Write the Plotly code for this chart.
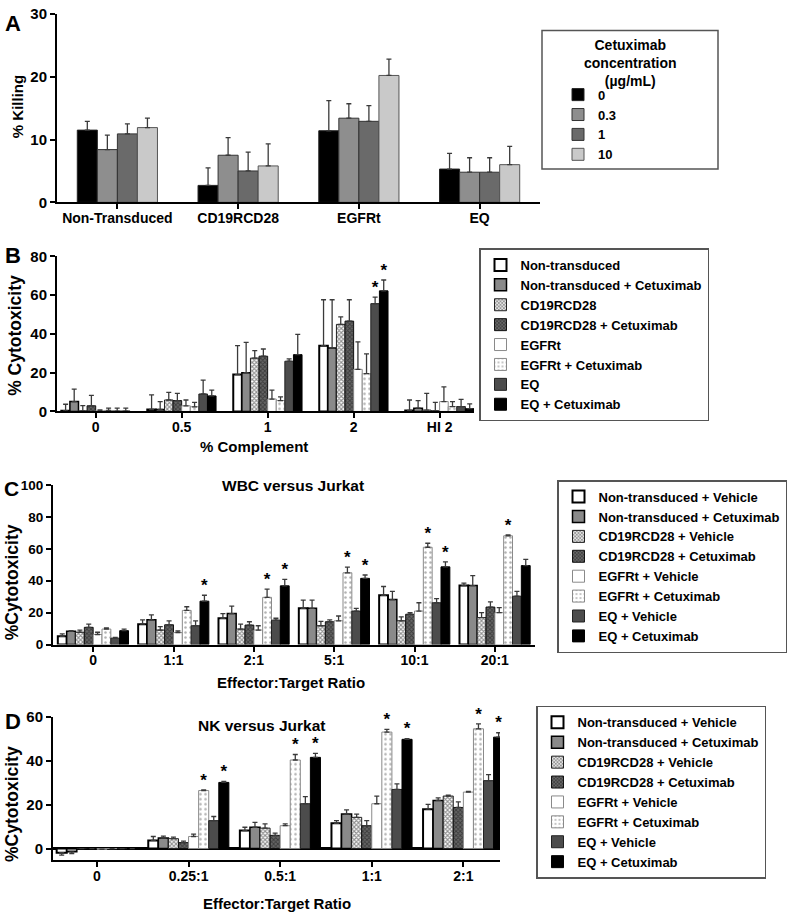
import plotly.graph_objects as go

FONT = "Liberation Sans, Arial, sans-serif"

# ---------------- Panel A ----------------
a_categories = ["Non-Transduced", "CD19RCD28", "EGFRt", "EQ"]
a_series = ["0", "0.3", "1", "10"]
a_title = "Cetuximab<br>concentration<br>(µg/mL)"
a_means = [
    [11.5, 2.7, 11.4, 5.3],
    [8.4, 7.5, 13.4, 4.8],
    [10.9, 5.0, 12.9, 4.8],
    [11.9, 5.8, 20.2, 6.0],
]
a_errs = [
    [1.4, 2.8, 4.8, 2.5],
    [2.3, 2.8, 2.3, 2.3],
    [1.6, 3.0, 2.5, 2.3],
    [1.5, 3.5, 2.6, 2.9],
]

# ---------------- Panel B ----------------
b_categories = ["0", "0.5", "1", "2", "HI 2"]
b_series = ["Non-transduced", "Non-transduced + Cetuximab", "CD19RCD28",
            "CD19RCD28 + Cetuximab", "EGFRt", "EGFRt + Cetuximab", "EQ",
            "EQ + Cetuximab"]
b_means = [
    [0.3, 1.0, 19.0, 33.9, 0.5],
    [5.1, 1.0, 20.0, 32.7, 1.7],
    [0.3, 5.9, 27.5, 44.9, 0.7],
    [2.9, 5.6, 28.5, 46.6, 0.3],
    [0.3, 2.9, 6.4, 21.7, 5.1],
    [0.5, 2.4, 5.6, 19.5, 2.5],
    [0.2, 9.0, 25.9, 55.6, 2.5],
    [0.2, 8.0, 29.3, 62.2, 1.4],
]
b_errs = [
    [3.4, 7.5, 14.9, 23.7, 5.4],
    [6.4, 4.1, 15.6, 24.9, 3.9],
    [2.7, 3.9, 3.9, 3.9, 8.6],
    [5.4, 3.7, 3.7, 11.0, 4.4],
    [0.5, 3.0, 4.6, 14.2, 7.6],
    [1.2, 2.3, 1.9, 10.2, 2.6],
    [1.5, 7.1, 1.2, 3.4, 3.7],
    [1.5, 3.0, 10.5, 5.6, 2.5],
]
b_stars = [(6, 3), (7, 3)]

# ---------------- Panel C ----------------
c_categories = ["0", "1:1", "2:1", "5:1", "10:1", "20:1"]
c_series = ["Non-transduced + Vehicle", "Non-transduced + Cetuximab",
            "CD19RCD28 + Vehicle", "CD19RCD28 + Cetuximab", "EGFRt + Vehicle",
            "EGFRt + Cetuximab", "EQ + Vehicle", "EQ + Cetuximab"]
c_means = [
    [5.2, 12.8, 16.5, 22.7, 30.9, 37.0],
    [8.3, 15.5, 19.4, 22.7, 28.2, 37.0],
    [7.7, 9.1, 9.7, 11.8, 14.9, 16.9],
    [10.8, 12.4, 12.2, 14.3, 19.0, 23.5],
    [6.3, 7.5, 9.1, 14.9, 21.0, 20.0],
    [9.7, 21.4, 29.6, 45.0, 61.0, 68.2],
    [4.0, 11.8, 15.3, 21.0, 26.2, 30.3],
    [8.7, 27.2, 36.8, 41.5, 48.7, 49.5],
]
c_errs = [
    [1.5, 2.7, 2.9, 5.1, 5.5, 1.5],
    [0.4, 3.1, 4.7, 5.1, 5.1, 6.2],
    [1.4, 2.1, 3.1, 2.7, 2.4, 3.1],
    [2.0, 2.5, 2.1, 1.2, 1.0, 3.3],
    [1.4, 1.0, 2.7, 3.0, 5.2, 3.1],
    [0.7, 2.3, 5.2, 3.5, 2.5, 0.6],
    [0.5, 3.1, 1.2, 1.7, 2.6, 3.0],
    [1.0, 3.7, 4.1, 2.1, 3.1, 3.9],
]
c_stars = [(7, 1), (5, 2), (7, 2), (5, 3), (7, 3), (5, 4), (7, 4), (5, 5)]

# ---------------- Panel D ----------------
d_categories = ["0", "0.25:1", "0.5:1", "1:1", "2:1"]
d_series = c_series
d_means = [
    [-1.9, 3.7, 8.2, 11.5, 17.9],
    [-1.5, 4.8, 9.7, 15.7, 21.9],
    [0.0, 4.5, 9.3, 14.2, 23.9],
    [0.0, 2.7, 6.0, 10.4, 18.7],
    [-0.3, 5.5, 10.4, 20.4, 25.7],
    [0.0, 26.4, 40.3, 53.0, 54.5],
    [0.0, 12.7, 20.4, 26.9, 30.9],
    [0.0, 30.1, 41.5, 49.7, 50.7],
]
d_errs = [
    [1.1, 1.8, 1.5, 1.2, 2.2],
    [0.8, 0.9, 2.2, 1.9, 1.2],
    [0.0, 0.7, 1.9, 1.5, 0.4],
    [0.0, 0.7, 1.0, 2.3, 2.5],
    [0.0, 1.1, 0.8, 3.5, 0.3],
    [0.0, 0.3, 2.5, 1.2, 2.2],
    [0.0, 1.9, 3.2, 2.5, 2.7],
    [0.0, 0.5, 1.8, 0.3, 2.0],
]
d_stars = [(5, 1), (7, 1), (5, 2), (7, 2), (5, 3), (7, 3), (5, 4), (7, 4)]

# ---------------- Styles ----------------
a_styles = [
    dict(color="#000000", line=dict(color="#222", width=1)),
    dict(color="#8e8e8e", line=dict(color="#333", width=1)),
    dict(color="#6a6a6a", line=dict(color="#333", width=1)),
    dict(color="#c9c9c9", line=dict(color="#555", width=1)),
]
g_styles = [
    dict(color="white", line=dict(color="black", width=2)),
    dict(color="#8a8a8a", line=dict(color="black", width=1.5)),
    dict(color="white", line=dict(color="#222", width=1),
         pattern=dict(shape="x", size=3, solidity=0.6, fgcolor="#222",
                      bgcolor="white", fillmode="overlay")),
    dict(color="#555555", line=dict(color="#111", width=1),
         pattern=dict(shape="x", size=3, solidity=0.5, fgcolor="#111",
                      bgcolor="#666666", fillmode="overlay")),
    dict(color="white", line=dict(color="#8a8a8a", width=1)),
    dict(color="white", line=dict(color="#8a8a8a", width=1),
         pattern=dict(shape=".", size=5, solidity=0.2, fgcolor="#666",
                      bgcolor="white", fillmode="overlay")),
    dict(color="#4c4c4c", line=dict(color="#222", width=1)),
    dict(color="#000000", line=dict(color="#000", width=1)),
]

fig = go.Figure()


def add_panel(cats, names, means, errs, styles, width, xref, yref, legend, stars):
    n = len(names)
    for i, (nm, m, e, st) in enumerate(zip(names, means, errs, styles)):
        xs = [k + (i - (n - 1) / 2) * width for k in range(len(cats))]
        plus = [ee if mm >= 0 else 0 for mm, ee in zip(m, e)]
        minus = [ee if mm < 0 else 0 for mm, ee in zip(m, e)]
        fig.add_trace(go.Bar(
            x=xs, y=m, width=width, name=nm, marker=st,
            xaxis=xref, yaxis=yref, legend=legend,
            error_y=dict(type="data", symmetric=False, array=plus,
                         arrayminus=minus, color="#3a3a3a", thickness=1.3,
                         width=2.5),
        ))
    if stars:
        sx = [k + (i - (n - 1) / 2) * width for (i, k) in stars]
        sy = [means[i][k] + errs[i][k] for (i, k) in stars]
        fig.add_trace(go.Scatter(
            x=sx, y=sy, mode="text", text=["*"] * len(sx),
            textposition="top center", cliponaxis=False,
            textfont=dict(size=17, color="black", family=FONT, weight="bold"),
            showlegend=False, hoverinfo="skip", xaxis=xref, yaxis=yref,
        ))


add_panel(a_categories, a_series, a_means, a_errs, a_styles, 0.166, "x", "y", "legend", [])
add_panel(b_categories, b_series, b_means, b_errs, g_styles, 0.1, "x2", "y2", "legend2", b_stars)
add_panel(c_categories, c_series, c_means, c_errs, g_styles, 0.11, "x3", "y3", "legend3", c_stars)
add_panel(d_categories, d_series, d_means, d_errs, g_styles, 0.11, "x4", "y4", "legend4", d_stars)

W, H = 800, 921


def px_x(p):
    return p / W


def px_y(p):
    return 1 - p / H


tickfont = dict(size=15, color="black", family=FONT, weight="bold")
catfont = dict(size=14, color="black", family=FONT, weight="bold")
common = dict(showline=True, linecolor="black", linewidth=2, ticks="outside",
              tickcolor="black", tickwidth=2, ticklen=5, showgrid=False,
              zeroline=False)


def xax(cats, rng, dom, anchor):
    return dict(common, range=rng, domain=dom, anchor=anchor,
                tickvals=list(range(len(cats))), ticktext=cats, tickfont=catfont,
                ticklabelstandoff=-3)


def yax(rng, dom, anchor, tv, fsize=15):
    return dict(common, range=rng, domain=dom, anchor=anchor, tickvals=tv,
                tickfont=dict(tickfont, size=fsize))


legfont = dict(size=13, color="black", family=FONT, weight="bold")
legbase = dict(xanchor="left", yanchor="top", bordercolor="#555",
               borderwidth=1.5, bgcolor="white", font=legfont,
               traceorder="normal")

fig.update_layout(
    width=W, height=H, margin=dict(l=0, r=0, t=0, b=0),
    paper_bgcolor="white", plot_bgcolor="white", barmode="overlay",
    font=dict(family=FONT, color="black"),
    xaxis=xax(a_categories, [-0.5, 3.5], [px_x(57), px_x(540)], "y"),
    yaxis=yax([0, 30], [px_y(197), px_y(5)], "x", [0, 10, 20, 30]),
    xaxis2=xax(b_categories, [-0.45, 4.4], [px_x(57), px_x(474)], "y2"),
    yaxis2=yax([0, 80], [px_y(410), px_y(252)], "x2", [0, 20, 40, 60, 80]),
    xaxis3=xax(c_categories, [-0.5, 5.5], [px_x(53), px_x(535)], "y3"),
    yaxis3=yax([0, 100], [px_y(647.5), px_y(485)], "x3",
               [0, 20, 40, 60, 80, 100], fsize=13.5),
    xaxis4=xax(d_categories, [-0.48, 4.4], [px_x(53), px_x(500)], "y4"),
    yaxis4=dict(yax([-5.2, 60], [px_y(867), px_y(721)], "x4", [0, 20, 40, 60]),
                zeroline=True, zerolinecolor="black", zerolinewidth=2.5),
    legend=dict(legbase, x=px_x(558), y=px_y(72), borderwidth=0,
                bgcolor="rgba(0,0,0,0)"),
    legend2=dict(legbase, x=px_x(479), y=px_y(244)),
    legend3=dict(legbase, x=px_x(557), y=px_y(480)),
    legend4=dict(legbase, x=px_x(536), y=px_y(710)),
)

# frame + centred title of the panel A legend
fig.add_shape(type="rect", xref="paper", yref="paper",
              x0=px_x(542), x1=px_x(718), y0=px_y(163), y1=px_y(22),
              line=dict(color="#555", width=1.5), fillcolor="rgba(0,0,0,0)",
              layer="above")
fig.add_annotation(text=a_title, x=px_x(630), y=px_y(26), xref="paper",
                   yref="paper", showarrow=False, align="center",
                   xanchor="center", yanchor="top",
                   font=dict(size=14, color="black", family=FONT, weight="bold"))

ann_font = dict(size=15, color="black", family=FONT, weight="bold")
big_font = dict(size=17.5, color="black", family=FONT, weight="bold")
letter_font = dict(size=22, color="black", family=FONT, weight="bold")
annots = [
    ("A", 3, 15, 0, letter_font, "left"),
    ("B", 3, 251, 0, letter_font, "left"),
    ("C", 2, 489, 0, dict(letter_font, size=21), "left"),
    ("D", 3, 726, 0, letter_font, "left"),
    ("% Killing", 17, 100, -90, ann_font, "center"),
    ("% Cytotoxicity", 15, 333, -90, big_font, "center"),
    ("%Cytotoxicity", 12, 584, -90, big_font, "center"),
    ("%Cytotoxicity", 12, 810, -90, big_font, "center"),
    ("% Complement", 254, 446, 0, ann_font, "center"),
    ("Effector:Target Ratio", 291, 686, 0, ann_font, "center"),
    ("Effector:Target Ratio", 277, 911, 0, ann_font, "center"),
    ("WBC versus Jurkat", 293, 485, 0, dict(ann_font, size=15.5), "center"),
    ("NK versus Jurkat", 262, 730, 0, dict(ann_font, size=15.5), "center"),
]
for text, x, y, ang, f, xa in annots:
    fig.add_annotation(text=text, x=px_x(x), y=px_y(y), xref="paper",
                       yref="paper", showarrow=False, textangle=ang, font=f,
                       xanchor=xa, yanchor="middle")

fig.write_html("out.html")
